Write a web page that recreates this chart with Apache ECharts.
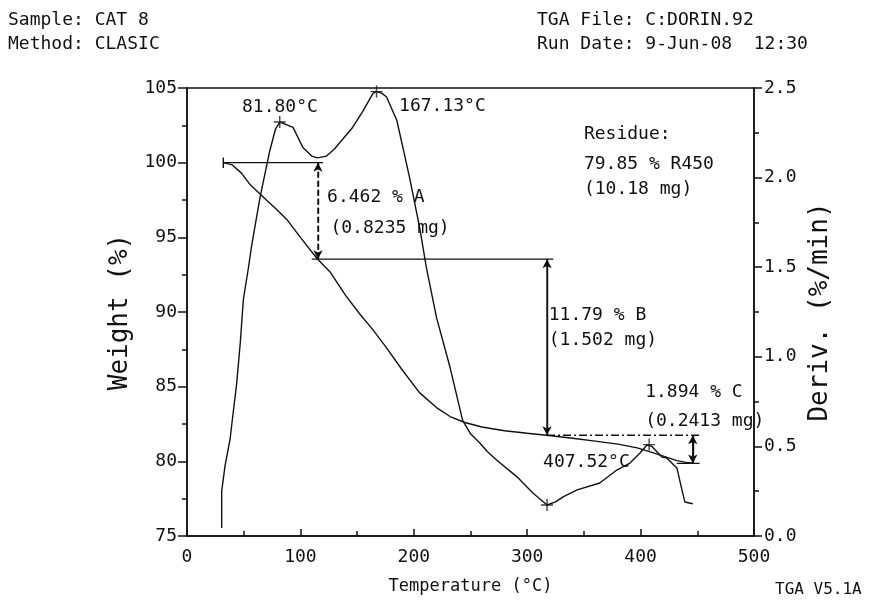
<!DOCTYPE html>
<html><head><meta charset="utf-8">
<script src="https://cdn.jsdelivr.net/npm/echarts@6.0.0/dist/echarts.min.js"></script>
<style>html,body{margin:0;padding:0;background:#fff}#c{width:887px;height:603px}</style>
</head><body><div id="c"></div>
<script>
// ---- data ----
const weightTemp = [32,40,48,56,63,70,80,88,100,115,126,140,152,164,175,190,205,220,232,245,260,280,300,317,340,360,380,397,410,422,432,440,446];
const weightPct  = [100.0,99.85,99.3,98.5,98.0,97.5,96.8,96.2,95.0,93.55,92.7,91.1,89.9,88.8,87.7,86.1,84.6,83.6,83.0,82.6,82.3,82.05,81.88,81.75,81.55,81.35,81.15,80.9,80.6,80.3,80.05,79.93,79.88];

const derivTemp = [30.6,30.6,33.5,38,40,43.8,47,49.7,54,57,64.4,73,78,81.8,86,93.5,102,110,115,123,130,138,146,155,164,167.13,172,176,185,191,196.6,205.5,211,220,232,243,250,258,265,273,291,305,317.5,325,331.6,344,364,379,390.6,399.5,405.6,410,419,423,432,436,439,446];
const derivRate = [0.045,0.25,0.39,0.54,0.65,0.85,1.08,1.32,1.49,1.62,1.89,2.15,2.27,2.31,2.30,2.28,2.17,2.12,2.11,2.12,2.16,2.22,2.28,2.37,2.47,2.48,2.47,2.45,2.32,2.15,1.99,1.71,1.50,1.22,0.94,0.647,0.57,0.52,0.47,0.424,0.33,0.24,0.173,0.19,0.218,0.257,0.296,0.368,0.407,0.463,0.508,0.50,0.44,0.435,0.38,0.27,0.19,0.18];

// step analysis (weight %, temperatures)
const stepTemp   = [115.5, 317.5, 446];
const stepTop    = [100.0, 93.54, 81.75];
const stepBottom = [93.54, 81.75, 79.86];
const stepLineFrom = [32, 110, 317.5, 432];
const stepLineTo   = [120, 323, 452, 452];
const stepLineLevel= [100.0, 93.54, 81.75, 79.86];

// peaks of derivative
const peakTemp = [81.8, 167.13, 317.5, 407.52];
const peakRate = [2.31, 2.48, 0.173, 0.51];

// annotation texts and their anchors (temperature, weight %)
const noteTexts = ['81.80°C','167.13°C','Residue:','79.85 % R450','(10.18 mg)','6.462 % A','(0.8235 mg)','11.79 % B','(1.502 mg)','1.894 % C','(0.2413 mg)','407.52°C'];
const noteAt = [[48.5,103.7],[187,103.75],[350,101.9],[350,99.9],[350,98.2],[123.5,97.7],[126.5,95.6],[319,89.8],[319,88.1],[404,84.6],[404,82.65],[314,79.9]];

const xTicks = [0,100,200,300,400,500];
const yLeftTicks = [75,80,85,90,95,100,105];
const yRightTicks = [0.0,0.5,1.0,1.5,2.0,2.5];

// ---- chart ----
const FONT = '"DejaVu Sans Mono", "Liberation Mono", monospace';
const INK = '#111111';
const chart = echarts.init(document.getElementById('c'), null, {renderer:'canvas'});

const segSeries = stepLineFrom.map((f,i)=>({
  type:'line', yAxisIndex:0, silent:true, symbol:'none', animation:false,
  data:[[f,stepLineLevel[i]],[stepLineTo[i],stepLineLevel[i]]],
  lineStyle:{color:INK,width:1.4, type: i===2 ? [8,3,2,3] : 'solid'}
}));

const arrowSeries = stepTemp.map((t,i)=>({
  type:'line', yAxisIndex:0, silent:true, symbol:'none', animation:false,
  data:[[t,stepTop[i]],[t,stepBottom[i]]],
  lineStyle:{color:INK,width:1.4,type: i===0 ? [6,3] : 'solid'},
  markLine:{silent:true, animation:false, symbol:['arrow','arrow'], symbolSize:[7,9],
    label:{show:false}, lineStyle:{color:INK,width:1.4,type: i===0 ? [6,3] : 'solid'},
    data:[[{coord:[t,stepTop[i]]},{coord:[t,stepBottom[i]]}]]}
}));

const option = {
  backgroundColor:'#fff',
  animation:false,
  grid:{left:187,right:133,top:88,bottom:67,show:true,borderColor:INK,borderWidth:1.5,backgroundColor:'transparent'},
  xAxis:{type:'value',min:xTicks[0],max:xTicks[xTicks.length-1],interval:100,
    axisLine:{lineStyle:{color:INK,width:1.5}},
    axisTick:{inside:true,length:7,lineStyle:{color:INK,width:1.5}},
    minorTick:{show:true,splitNumber:2,length:5,lineStyle:{color:INK,width:1.5}},
    splitLine:{show:false},
    axisLabel:{fontFamily:FONT,fontSize:18,color:INK,margin:12},
    name:'Temperature (°C)',nameLocation:'middle',nameGap:42,
    nameTextStyle:{fontFamily:FONT,fontSize:17,color:INK}},
  yAxis:[
    {type:'value',min:yLeftTicks[0],max:yLeftTicks[yLeftTicks.length-1],interval:5,position:'left',
     axisLine:{show:true,lineStyle:{color:INK,width:1.5}},
     axisTick:{show:true,length:9,lineStyle:{color:INK,width:1.5}},
     minorTick:{show:true,splitNumber:2,length:5,lineStyle:{color:INK,width:1.5}},
     splitLine:{show:false},
     axisLabel:{fontFamily:FONT,fontSize:18,color:INK,margin:10},
     name:'Weight (%)',nameLocation:'middle',nameGap:42,nameRotate:90,
     nameTextStyle:{fontFamily:FONT,fontSize:26,color:INK}},
    {type:'value',min:yRightTicks[0],max:yRightTicks[yRightTicks.length-1],interval:0.5,position:'right',
     axisLine:{show:true,lineStyle:{color:INK,width:1.5}},
     axisTick:{show:true,length:8,lineStyle:{color:INK,width:1.5}},
     minorTick:{show:true,splitNumber:2,length:5,lineStyle:{color:INK,width:1.5}},
     splitLine:{show:false},
     axisLabel:{fontFamily:FONT,fontSize:18,color:INK,margin:10,formatter:v=>v.toFixed(1)},
     name:'Deriv. (%/min)',nameLocation:'middle',nameGap:50,nameRotate:90,
     nameTextStyle:{fontFamily:FONT,fontSize:26,color:INK}}
  ],
  series:[
    {type:'line',yAxisIndex:0,symbol:'none',silent:true,
     data:weightTemp.map((t,i)=>[t,weightPct[i]]),
     lineStyle:{color:INK,width:1.4}},
    {type:'line',yAxisIndex:1,symbol:'none',silent:true,
     data:derivTemp.map((t,i)=>[t,derivRate[i]]),
     lineStyle:{color:INK,width:1.4}},
    ...segSeries,
    ...arrowSeries,
    {type:'line',yAxisIndex:0,symbol:'none',silent:true,
     data:[[stepLineFrom[0],stepLineLevel[0]+0.35],[stepLineFrom[0],stepLineLevel[0]-0.35]],
     lineStyle:{color:INK,width:1.4}},
    {type:'scatter',yAxisIndex:1,silent:true,
     symbol:'path://M0,5L10,5M5,0L5,10',symbolSize:12,
     itemStyle:{color:'none',borderColor:INK,borderWidth:1.4},
     data:peakTemp.map((t,i)=>[t,peakRate[i]])},
    {type:'scatter',yAxisIndex:0,silent:true,symbolSize:0,
     itemStyle:{color:INK,opacity:1},
     data:noteAt.map((p,i)=>({value:p,label:{formatter:noteTexts[i]}})),
     label:{show:true,position:[0,0],align:'left',verticalAlign:'middle',opacity:1,
       textBorderWidth:0,textBorderColor:'transparent',
       fontFamily:FONT,fontSize:18,color:INK}}
  ],
  graphic:[
    {type:'text',x:8,y:20,style:{text:'Sample: CAT 8',font:'18px '+FONT,fill:INK,verticalAlign:'middle'}},
    {type:'text',x:8,y:44,style:{text:'Method: CLASIC',font:'18px '+FONT,fill:INK,verticalAlign:'middle'}},
    {type:'text',x:537,y:20,style:{text:'TGA File: C:DORIN.92',font:'18px '+FONT,fill:INK,verticalAlign:'middle'}},
    {type:'text',x:537,y:44,style:{text:'Run Date: 9-Jun-08  12:30',font:'18px '+FONT,fill:INK,verticalAlign:'middle'}},
    {type:'text',x:775,y:590,style:{text:'TGA V5.1A',font:'16px '+FONT,fill:INK,verticalAlign:'middle'}}
  ]
};
chart.setOption(option);
</script>
</body></html>
